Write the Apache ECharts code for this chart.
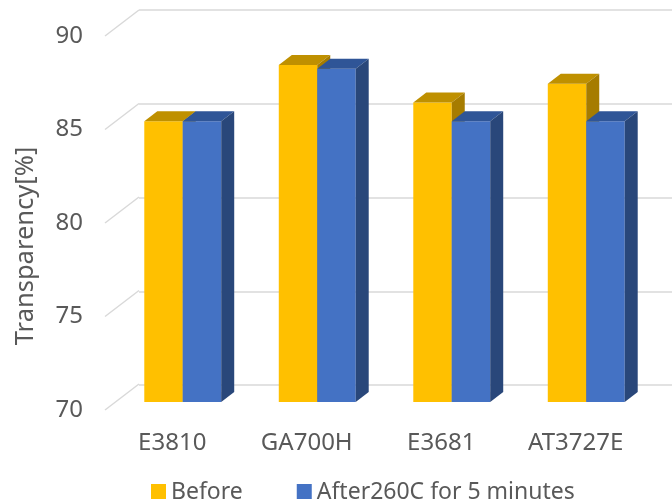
<!DOCTYPE html>
<html>
<head>
<meta charset="utf-8">
<script src="https://cdn.jsdelivr.net/npm/echarts@6/dist/echarts.min.js"></script>
<style>
  html, body { margin: 0; padding: 0; background: #fff; }
  #chartsDOM { width: 672px; height: 499px; }
</style>
</head>
<body>
<div id="chartsDOM"></div>
<script>
// 数据
var categories = ['E3810', 'GA700H', 'E3681', 'AT3727E'];
var beforeValues = [85, 88, 86, 87];
var afterValues = [85, 87.8, 85, 85];
var yTicks = [70, 75, 80, 85, 90];
var seriesNames = ['Before', 'After260C for 5 minutes'];

var textColor = '#595959';
var fontFamily = '"Noto Sans", sans-serif';
var fontSize = 24;

// 3D 柱子的颜色: 正面, 顶面, 侧面
var faceColors = [
    { front: '#FFC000', top: '#BF9000', side: '#A67C00' },
    { front: '#4472C4', top: '#2F5597', side: '#29477A' }
];

var depthX = 13, depthY = -10; // 柱子的深度
var wallX = 34, wallY = -26;   // 前面到后墙的偏移

function barRender(sIdx) {
    return function (params, api) {
        var idx = api.value(0);
        var val = api.value(1);
        var top = api.coord([idx, val]);
        var base = api.coord([idx, 70]);
        var band = api.size([1, 0])[0];
        var w = band * 0.286;
        var x0 = sIdx === 0 ? top[0] - w : top[0];
        var x1 = x0 + w;
        var yt = top[1], yb = base[1];
        var c = faceColors[sIdx];
        return {
            type: 'group',
            children: [
                {
                    type: 'rect',
                    shape: { x: x0, y: yt, width: w, height: yb - yt },
                    style: { fill: c.front }
                },
                {
                    type: 'polygon',
                    shape: { points: [[x0, yt], [x0 + depthX, yt + depthY], [x1 + depthX, yt + depthY], [x1, yt]] },
                    style: { fill: c.top }
                },
                {
                    type: 'polygon',
                    shape: { points: [[x1, yt], [x1 + depthX, yt + depthY], [x1 + depthX, yb + depthY], [x1, yb]] },
                    style: { fill: c.side }
                }
            ]
        };
    };
}

var myChart = echarts.init(document.getElementById('chartsDOM'), null, { renderer: 'canvas' });

var option = {
    animation: false,
    textStyle: { fontFamily: fontFamily },
    grid: [
        // 柱子所在平面
        { left: 115.5, width: 538, top: 27.6, bottom: 97 },
        // 前面 (刻度文字)
        { left: 105, width: 538, top: 36, bottom: 89 },
        // 后墙 (网格线)
        { left: 139, width: 560, top: 10, bottom: 114 }
    ],
    xAxis: [
        { gridIndex: 0, type: 'category', data: categories, show: false },
        {
            gridIndex: 1, type: 'category', data: categories,
            axisLine: { show: false }, axisTick: { show: false },
            axisLabel: { color: textColor, fontSize: fontSize, margin: 21, fontFamily: fontFamily }
        },
        { gridIndex: 2, type: 'category', data: categories, show: false }
    ],
    yAxis: [
        { gridIndex: 0, type: 'value', min: 70, max: 90, interval: 5, show: false },
        {
            gridIndex: 1, type: 'value', min: 70, max: 90, interval: 5,
            name: 'Transparency[%]', nameLocation: 'middle', nameGap: 66,
            nameTextStyle: { color: textColor, fontSize: 25.5, fontFamily: fontFamily, padding: [0, 46, 0, 0] },
            axisLine: { show: false }, axisTick: { show: false }, splitLine: { show: false },
            axisLabel: { color: textColor, fontSize: fontSize, margin: 22, fontFamily: fontFamily }
        },
        {
            gridIndex: 2, type: 'value', min: 70, max: 90, interval: 5,
            axisLine: { show: false }, axisTick: { show: false }, axisLabel: { show: false },
            splitLine: { show: true, lineStyle: { color: '#D9D9D9', width: 1.5 } }
        }
    ],
    legend: {
        left: 151, top: 481, padding: 0,
        itemWidth: 15, itemHeight: 17, itemGap: 54,
        icon: 'rect',
        textStyle: { color: textColor, fontSize: 23, fontFamily: fontFamily },
        data: seriesNames
    },
    series: [
        {
            // 地板和侧面的斜线
            type: 'custom',
            xAxisIndex: 1, yAxisIndex: 1,
            silent: true, z: 0,
            data: yTicks.map(function (v) { return [0, v]; }),
            renderItem: function (params, api) {
                var y = api.coord([0, api.value(1)])[1];
                var x = params.coordSys.x;
                return {
                    type: 'line',
                    shape: { x1: x, y1: y, x2: x + wallX, y2: y + wallY },
                    style: { stroke: '#D9D9D9', lineWidth: 1.5 }
                };
            }
        },
        {
            name: seriesNames[0],
            type: 'custom',
            xAxisIndex: 0, yAxisIndex: 0, z: 3,
            itemStyle: { color: faceColors[0].front },
            data: beforeValues.map(function (v, i) { return [i, v]; }),
            renderItem: barRender(0)
        },
        {
            name: seriesNames[1],
            type: 'custom',
            xAxisIndex: 0, yAxisIndex: 0, z: 4,
            itemStyle: { color: faceColors[1].front },
            data: afterValues.map(function (v, i) { return [i, v]; }),
            renderItem: barRender(1)
        }
    ]
};

myChart.setOption(option);
window.addEventListener('resize', function () {
    myChart.resize();
});
</script>
</body>
</html>
